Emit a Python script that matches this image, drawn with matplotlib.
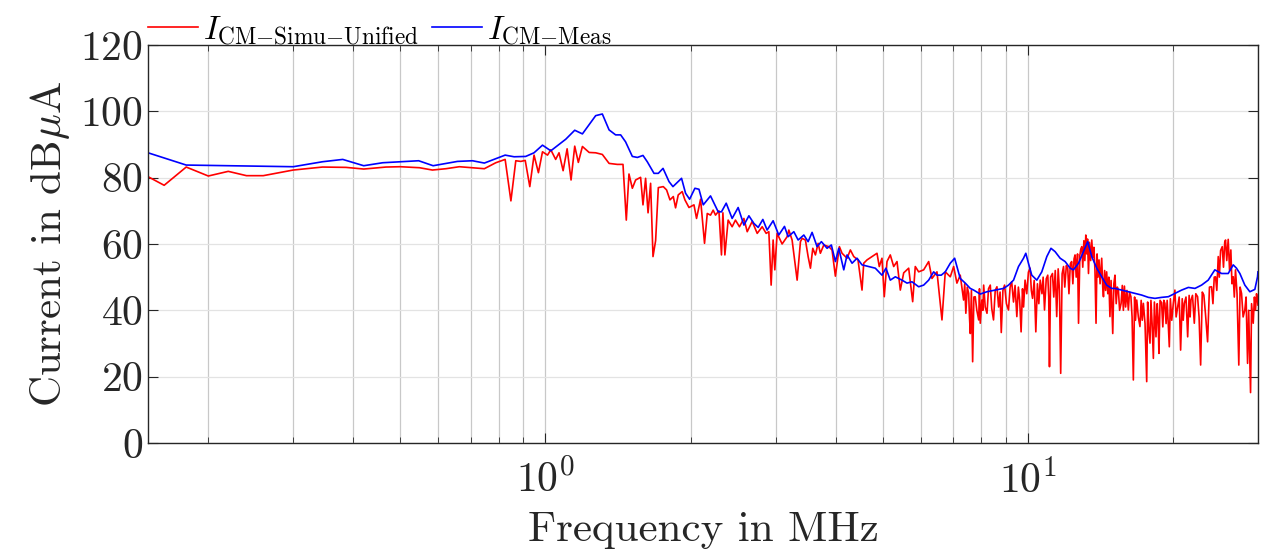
import matplotlib
matplotlib.use('Agg')
import matplotlib.pyplot as plt
import numpy as np

# 画图字体 (LaTeX 风格)
plt.rcParams['font.family'] = 'serif'
plt.rcParams['font.serif'] = ['cmr10', 'DejaVu Serif']
plt.rcParams['mathtext.fontset'] = 'cm'
plt.rcParams['axes.formatter.use_mathtext'] = True
plt.rcParams['axes.unicode_minus'] = False

# 数据：频率 (MHz) 与电流 (dBuA)
# 仿真 - 低频段
f_simu_lo = [0.15, 0.162, 0.18, 0.20, 0.22, 0.24, 0.26, 0.30, 0.345, 0.386, 0.42, 0.467, 0.50,
             0.548, 0.583, 0.622, 0.663, 0.747, 0.789, 0.825, 0.848, 0.868, 0.889, 0.908, 0.928,
             0.947, 0.967, 0.986, 1.010, 1.026, 1.050, 1.067, 1.088, 1.109, 1.130, 1.150, 1.170,
             1.193, 1.232, 1.271, 1.312, 1.355, 1.409, 1.448, 1.471, 1.490, 1.514, 1.538, 1.575,
             1.593, 1.613, 1.632, 1.652, 1.671, 1.692, 1.714, 1.755, 1.783, 1.812, 1.841, 1.861,
             1.885, 1.921, 1.946, 1.984, 2.032, 2.057, 2.097, 2.137, 2.165, 2.199, 2.227, 2.252,
             2.289, 2.317, 2.333, 2.355, 2.392, 2.438, 2.477, 2.525, 2.579, 2.620, 2.683, 2.748,
             2.814, 2.868, 2.905, 2.937, 2.965, 2.989, 3.022, 3.095, 3.135, 3.170, 3.196, 3.246,
             3.325, 3.378, 3.405, 3.459, 3.504, 3.543, 3.583, 3.628, 3.675, 3.715, 3.776, 3.867,
             3.928, 3.991, 4.068, 4.120, 4.220, 4.287, 4.357, 4.446, 4.532, 4.569, 4.642, 4.753,
             4.868, 4.921, 4.985, 5.040, 5.106, 5.187, 5.272, 5.356, 5.441, 5.530, 5.663, 5.772,
             5.844, 5.939, 6.083, 6.230, 6.329, 6.482, 6.638, 6.744, 6.907, 7.019, 7.129, 7.243]
i_simu_lo = [80.3, 77.7, 83.2, 80.5, 81.9, 80.6, 80.6, 82.3, 83.2, 83.1, 82.6, 83.2, 83.3,
             83.0, 82.3, 82.7, 83.3, 82.7, 84.5, 85.5, 73.0, 85.1, 84.9, 85.2, 77.3,
             86.8, 81.5, 87.8, 86.8, 88.4, 85.5, 87.5, 82.1, 88.7, 79.3, 89.5, 84.6,
             89.4, 87.6, 87.5, 87.0, 84.3, 84.0, 84.0, 67.2, 81.1, 76.8, 79.3, 80.1,
             71.8, 79.8, 69.4, 78.3, 56.2, 61.0, 77.0, 77.3, 76.3, 73.3, 74.3, 70.9,
             74.8, 75.8, 73.3, 71.0, 71.8, 67.7, 73.5, 60.2, 69.2, 68.7, 70.2, 68.7,
             70.0, 56.7, 69.4, 56.7, 67.2, 65.2, 67.2, 65.2, 67.7, 63.7, 66.8, 63.2,
             65.2, 63.2, 63.7, 47.6, 61.2, 52.2, 63.2, 60.0, 61.2, 62.2, 64.2, 61.2,
             49.1, 60.7, 61.7, 61.2, 56.2, 52.7, 58.7, 56.7, 60.2, 57.2, 59.7, 59.2,
             58.2, 50.3, 59.2, 57.2, 55.7, 58.2, 56.2, 55.2, 46.1, 54.2, 55.2, 56.2,
             57.2, 53.2, 55.7, 44.1, 54.7, 56.7, 53.2, 54.7, 46.1, 51.3, 52.7, 42.6,
             53.2, 51.6, 52.2, 54.7, 49.6, 51.6, 37.1, 51.6, 50.1, 53.2, 48.2, 50.6]

# 仿真 - 高频段 (密集振荡)
f_simu_hi = [7.36, 7.40, 7.44, 7.49, 7.54, 7.57, 7.60, 7.64, 7.685, 7.73, 7.78, 7.84, 7.91,
             7.94, 7.97, 8.03, 8.07, 8.10, 8.16, 8.23, 8.29, 8.36, 8.42, 8.49, 8.56, 8.63,
             8.70, 8.76, 8.81, 8.88, 8.95, 9.03, 9.12, 9.19, 9.26, 9.34, 9.41, 9.49, 9.56,
             9.62, 9.685, 9.75, 9.80, 9.87, 9.95, 10.03, 10.11, 10.17, 10.23, 10.31, 10.39,
             10.47, 10.54, 10.61, 10.70, 10.76, 10.83, 10.92, 11.00, 11.05, 11.09, 11.15,
             11.25, 11.32, 11.40, 11.48, 11.56, 11.63, 11.70, 11.78, 11.86, 11.93, 12.02,
             12.10, 12.17, 12.25, 12.33, 12.40, 12.47, 12.53, 12.60, 12.68, 12.74, 12.82,
             12.88, 12.94, 13.00, 13.07, 13.13, 13.19, 13.25, 13.30, 13.36, 13.42, 13.50,
             13.57, 13.64, 13.71, 13.78, 13.85, 13.92, 13.98, 14.05, 14.12, 14.23, 14.30,
             14.35, 14.43, 14.50, 14.57, 14.65, 14.72, 14.80, 14.88, 15.00, 15.08, 15.16,
             15.25, 15.33, 15.41, 15.50, 15.61, 15.70, 15.78, 15.86, 15.95, 16.05, 16.16,
             16.25, 16.36, 16.45, 16.55, 16.65, 16.72, 16.82, 16.95, 17.08, 17.18, 17.27,
             17.36, 17.50, 17.64, 17.72, 17.80, 17.92, 18.00, 18.10, 18.21, 18.30, 18.44,
             18.55, 18.63, 18.70, 18.80, 18.94, 19.05, 19.14, 19.24, 19.35, 19.45, 19.65,
             19.75, 19.88, 20.03, 20.18, 20.30, 20.45, 20.60, 20.74, 20.90, 21.00, 21.11,
             21.28, 21.45, 21.60, 21.70, 21.79, 21.95, 22.14, 22.30, 22.49, 22.65, 22.82,
             23.00, 23.17, 23.35, 23.59, 23.80, 24.04, 24.20, 24.35, 24.50, 24.65, 24.82,
             24.95, 25.10, 25.30, 25.45, 25.60, 25.70, 25.85, 26.03, 26.20, 26.36, 26.50,
             26.66, 26.80, 26.95, 27.15, 27.38, 27.55, 27.74, 27.95, 28.18, 28.35, 28.55,
             28.70, 28.96, 29.10, 29.33, 29.50, 29.65, 29.80, 29.94, 30.0]
i_simu_hi = [43.1, 48.0, 39.1, 47.0, 45.1, 38.0, 33.0, 46.0, 24.5, 44.0, 44.1, 40.0, 37.1,
             46.5, 36.1, 43.1, 40.0, 47.6, 41.0, 39.1, 46.5, 47.6, 40.5, 37.1, 46.0, 47.1,
             41.0, 45.5, 33.3, 46.0, 47.6, 42.0, 40.1, 47.0, 48.6, 42.5, 47.5, 38.1, 47.0,
             43.0, 33.5, 46.5, 41.0, 49.1, 45.0, 51.5, 52.7, 46.0, 43.6, 49.0, 33.5,
             48.0, 42.0, 49.1, 45.0, 50.0, 40.1, 49.5, 50.6, 44.0, 23.0, 50.0,
             51.1, 44.0, 52.0, 38.1, 52.5, 46.0, 21.0, 51.0, 53.2, 47.0, 53.5,
             52.7, 45.0, 54.0, 54.7, 48.0, 55.5, 56.7, 50.0, 57.0, 36.1, 56.5,
             58.5, 59.2, 53.0, 61.0, 55.0, 62.7, 57.0, 61.5, 51.1, 60.5, 55.0,
             61.2, 56.0, 59.0, 52.0, 36.1, 57.0, 50.0, 55.2, 48.0, 55.7, 47.0,
             44.1, 52.0, 46.0, 51.6, 45.0, 50.0, 38.1, 49.0, 33.0, 48.0, 50.6,
             42.0, 47.0, 46.1, 40.0, 42.1, 47.5, 40.0, 47.3, 41.0, 46.0, 40.1,
             45.5, 44.1, 38.0, 19.0, 44.0, 37.0, 43.1, 38.0, 35.1, 43.0, 37.0,
             42.1, 36.0, 18.5, 42.5, 35.0, 30.1, 43.0, 36.0, 25.5, 42.5, 32.0,
             42.0, 37.0, 27.0, 43.0, 42.3, 35.0, 43.0, 42.1, 36.0, 43.0, 29.0,
             43.5, 37.0, 42.1, 46.1, 38.0, 41.1, 44.0, 28.0, 43.5, 37.0, 42.1,
             44.0, 32.0, 44.5, 38.0, 43.1, 44.5, 36.1, 45.0, 44.1, 38.0, 23.5,
             45.5, 44.6, 39.0, 30.5, 47.0, 47.1, 42.0, 50.0, 50.1, 46.0, 56.2,
             50.0, 58.0, 59.2, 53.0, 60.5, 61.2, 55.0, 61.4, 52.0, 58.2, 48.0,
             50.1, 44.0, 52.2, 45.0, 23.5, 47.0, 45.1, 38.0, 40.1, 44.0, 24.0,
             40.0, 15.2, 42.0, 36.1, 44.0, 40.1, 45.0, 43.1, 41.6]

f_simu = f_simu_lo + f_simu_hi
i_simu = i_simu_lo + i_simu_hi

# 测量
f_meas = [0.15, 0.18, 0.30, 0.345, 0.38, 0.42, 0.46, 0.546, 0.585, 0.657, 0.706, 0.747,
          0.825, 0.861, 0.910, 0.947, 0.986, 1.026, 1.102, 1.150, 1.193, 1.271, 1.312, 1.355,
          1.398, 1.432, 1.466, 1.514, 1.551, 1.593, 1.626, 1.679, 1.714, 1.753, 1.804, 1.838,
          1.915, 1.952, 1.990, 2.041, 2.081, 2.124, 2.199, 2.281, 2.317, 2.370, 2.438, 2.509,
          2.579, 2.641, 2.705, 2.761, 2.823, 2.881, 2.965, 3.046, 3.13, 3.185, 3.273, 3.341,
          3.433, 3.504, 3.571, 3.657, 3.733, 3.836, 3.915, 3.991, 4.056, 4.154, 4.220, 4.322,
          4.426, 4.532, 4.679, 4.829, 4.985, 5.081, 5.187, 5.313, 5.485, 5.618, 5.753, 5.939,
          6.083, 6.230, 6.380, 6.482, 6.616, 6.744, 6.907, 7.052, 7.129, 7.243, 7.419, 7.598,
          7.722, 7.968, 8.228, 8.557, 8.907, 9.121, 9.342, 9.566, 9.797, 9.905, 10.03, 10.19,
          10.44, 10.69, 10.95, 11.17, 11.39, 11.67, 11.95, 12.24, 12.43, 12.74, 13.04, 13.31,
          13.57, 13.90, 14.23, 14.57, 14.92, 15.16, 15.65, 16.16, 16.68, 17.22, 17.78, 18.35,
          18.94, 19.56, 20.18, 20.84, 21.52, 22.21, 22.92, 23.66, 24.42, 25.22, 26.03, 26.66,
          27.08, 27.52, 28.18, 28.86, 29.56, 29.94, 30.0]
i_meas = [87.5, 83.8, 83.3, 84.8, 85.5, 83.6, 84.5, 85.1, 83.6, 84.9, 85.1, 84.4,
          86.8, 86.3, 86.4, 87.5, 89.8, 88.1, 91.6, 94.3, 93.2, 98.7, 99.2, 94.4,
          92.9, 92.9, 90.8, 86.4, 86.1, 86.7, 84.8, 81.3, 81.3, 82.8, 78.8, 77.3,
          79.8, 75.3, 73.5, 76.8, 76.5, 71.8, 74.5, 69.7, 69.7, 72.3, 67.7, 71.0,
          65.7, 68.5, 66.2, 65.0, 67.4, 64.2, 67.0, 62.7, 65.3, 62.2, 63.7, 61.2,
          62.7, 60.7, 63.5, 59.2, 60.7, 58.7, 59.7, 54.7, 58.7, 52.2, 56.7, 54.2,
          55.7, 53.7, 53.2, 52.7, 50.6, 52.7, 49.1, 50.1, 49.1, 48.2, 48.6, 47.1,
          47.6, 49.1, 51.6, 50.6, 50.6, 51.6, 54.2, 55.7, 53.2, 49.6, 48.2, 46.6,
          46.1, 44.9, 45.6, 46.1, 46.6, 47.6, 49.1, 53.2, 55.7, 57.2, 54.2, 50.6,
          49.1, 51.6, 56.2, 58.7, 57.7, 55.7, 54.7, 52.7, 52.2, 54.2, 57.7, 60.7,
          56.2, 52.7, 50.1, 47.6, 46.6, 46.6, 46.1, 45.6, 45.1, 44.6, 43.9, 43.6,
          43.9, 44.1, 45.1, 46.1, 46.9, 46.6, 47.6, 49.1, 52.2, 51.1, 51.1, 53.7,
          52.7, 51.1, 47.6, 45.6, 46.3, 50.1, 51.6]

fig, ax = plt.subplots(figsize=(12.63, 5.53), dpi=100)
fig.subplots_adjust(left=0.1172, right=0.996, bottom=0.199, top=0.9186)

ax.semilogx(f_simu, i_simu, color='#ff0000', linewidth=1.2,
            label=r'$I_{\mathrm{CM{-}Simu{-}Unified}}$')
ax.semilogx(f_meas, i_meas, color='#0000ff', linewidth=1.2,
            label=r'$I_{\mathrm{CM{-}Meas}}$')

ax.set_xlim(0.15, 30)
ax.set_ylim(0, 120)
ax.set_yticks(np.arange(0, 121, 20))

# 网格
ax.grid(True, axis='x', which='both', color='#c8c8c8', linewidth=0.9)
ax.grid(True, axis='y', which='major', color='#e3e3e3', linewidth=0.9)
ax.set_axisbelow(True)

txt = '#262626'
ax.tick_params(axis='both', which='both', direction='in', top=True, right=True,
               colors=txt, labelsize=30)
ax.tick_params(which='major', length=7)
ax.tick_params(which='minor', length=4)
ax.tick_params(axis='x', which='major', pad=12)
for s in ax.spines.values():
    s.set_color(txt)
    s.set_linewidth(1.0)

ax.set_xlabel('Frequency in MHz', fontsize=31, color=txt, labelpad=8)
ax.set_ylabel(r'Current in dB$\mu$A', fontsize=31, color=txt, labelpad=6)

ax.legend(loc='lower left', bbox_to_anchor=(0.0, 0.995), ncol=2, frameon=False,
          fontsize=24, handlelength=1.5, handletextpad=0.15, columnspacing=0.4,
          borderaxespad=0.0, borderpad=0.0)

plt.savefig('out.png', dpi=100)
